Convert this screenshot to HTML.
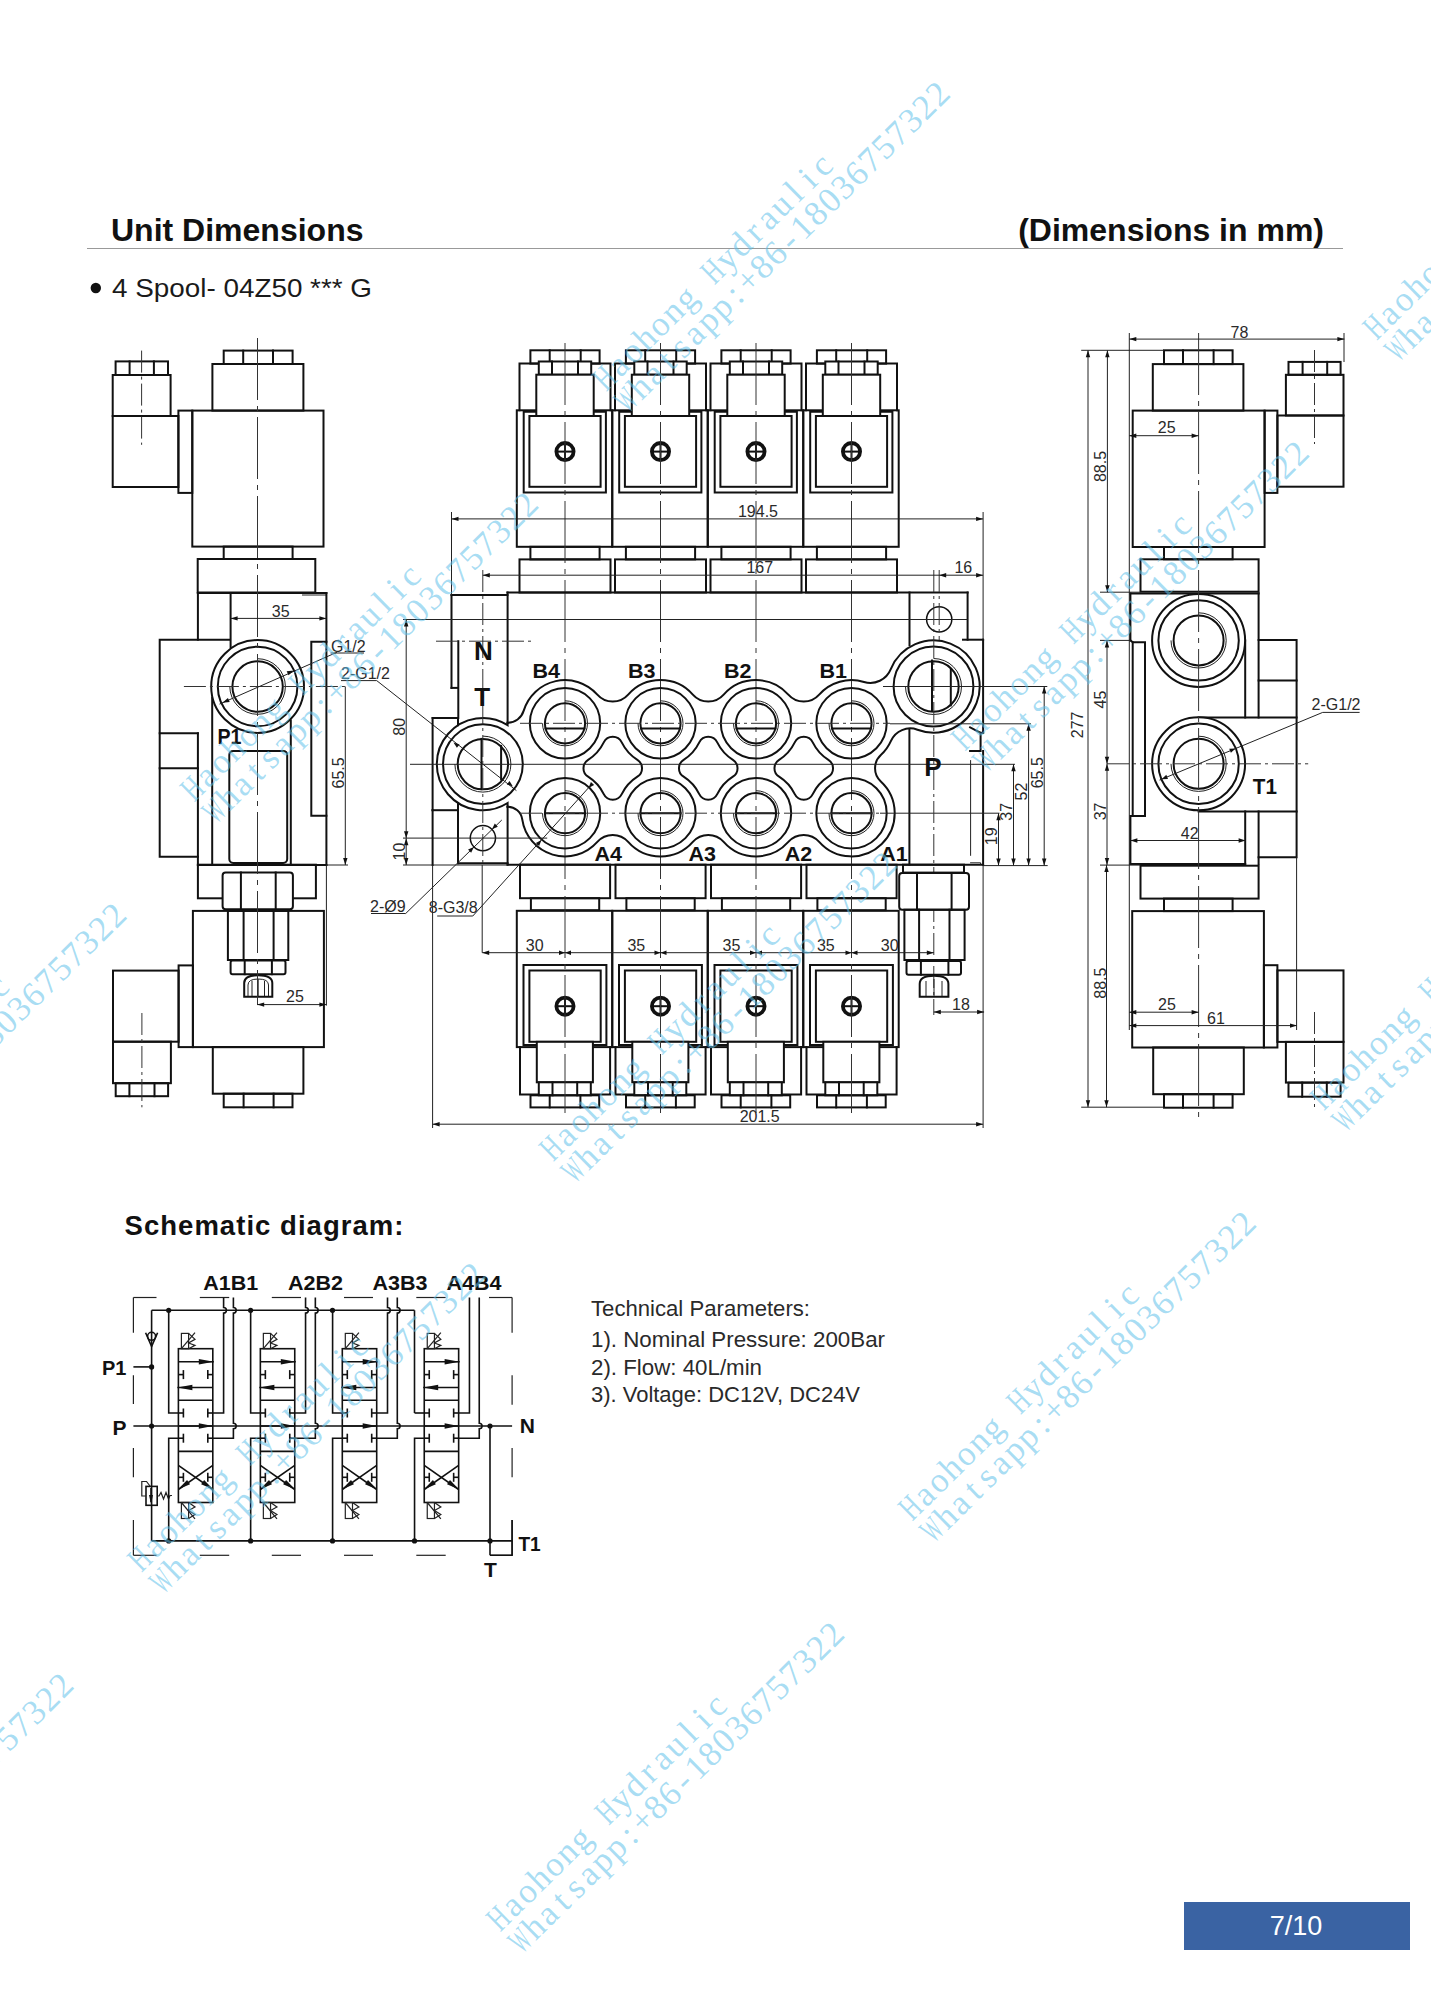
<!DOCTYPE html>
<html><head><meta charset="utf-8"><style>
html,body{margin:0;padding:0;background:#fff;}
svg{display:block;}
.k{stroke:#111;stroke-width:2;fill:none;stroke-linecap:square;}
.kw{stroke:#111;stroke-width:2;fill:#fff;}
.n{stroke:#222;stroke-width:1;fill:none;}
.c{stroke:#333;stroke-width:1;fill:none;stroke-dasharray:22 4 3 4;}
.cl{stroke:#333;stroke-width:1;fill:none;stroke-dasharray:62 6 5 6;}
.ar{fill:#111;stroke:none;}
.hd{stroke:#999;stroke-width:1.2;fill:none;}
.pb{fill:#3a63a3;stroke:none;}
.scr{stroke:#111;stroke-width:3.8;fill:#fff;}
.m{stroke:#111;stroke-width:1.5;fill:none;}
.s{stroke:#111;stroke-width:1.6;fill:none;}
.s1{stroke:#222;stroke-width:1.2;fill:none;}
.sd{stroke:#222;stroke-width:1.5;fill:none;stroke-dasharray:29 43;}
</style></head><body>
<svg width="1431" height="2006" viewBox="0 0 1431 2006">
<text x="111" y="241" font-family="Liberation Sans" font-size="32" font-weight="bold" text-anchor="start" fill="#111" >Unit Dimensions</text>
<text x="1324" y="241" font-family="Liberation Sans" font-size="32" font-weight="bold" text-anchor="end" fill="#111" >(Dimensions in mm)</text>
<line class="hd" x1="87" y1="248.5" x2="1343" y2="248.5"/>
<circle class="ar" cx="95.8" cy="288" r="5.2"/>
<text x="112" y="297" font-family="Liberation Sans" font-size="25.5" font-weight="normal" text-anchor="start" fill="#1a1a1a" textLength="260" lengthAdjust="spacingAndGlyphs">4 Spool- 04Z50 *** G</text>
<rect class="pb" x="1184" y="1902" width="226" height="48"/>
<text x="1296" y="1935" font-family="Liberation Sans" font-size="27" font-weight="normal" text-anchor="middle" fill="#fff" >7/10</text>
<text x="124.5" y="1234.5" font-family="Liberation Sans" font-size="27.5" font-weight="bold" text-anchor="start" fill="#111" textLength="279" lengthAdjust="spacing">Schematic diagram:</text>
<text x="591" y="1315.7" font-family="Liberation Sans" font-size="22.5" font-weight="normal" text-anchor="start" fill="#2a2a2a" textLength="219" lengthAdjust="spacingAndGlyphs">Technical Parameters:</text>
<text x="591" y="1347" font-family="Liberation Sans" font-size="22.5" font-weight="normal" text-anchor="start" fill="#2a2a2a" textLength="294" lengthAdjust="spacingAndGlyphs">1). Nominal Pressure: 200Bar</text>
<text x="591" y="1375" font-family="Liberation Sans" font-size="22.5" font-weight="normal" text-anchor="start" fill="#2a2a2a" textLength="171" lengthAdjust="spacingAndGlyphs">2). Flow: 40L/min</text>
<text x="591" y="1401.8" font-family="Liberation Sans" font-size="22.5" font-weight="normal" text-anchor="start" fill="#2a2a2a" textLength="269" lengthAdjust="spacingAndGlyphs">3). Voltage: DC12V, DC24V</text>
<rect class="k" x="115.6" y="361.4" width="52.4" height="13.6"/>
<line class="k" x1="129.6" y1="361.4" x2="129.6" y2="375"/>
<line class="k" x1="153.9" y1="361.4" x2="153.9" y2="375"/>
<rect class="k" x="112.7" y="375" width="57.9" height="41"/>
<rect class="k" x="112.7" y="416" width="65.7" height="71"/>
<rect class="k" x="178.4" y="410.6" width="13.9" height="82.3"/>
<rect class="k" x="192.3" y="410.6" width="131.2" height="136"/>
<rect class="k" x="212.4" y="364" width="91" height="46.6"/>
<rect class="k" x="223.7" y="350.6" width="68.9" height="13.4"/>
<line class="k" x1="243.2" y1="350.6" x2="243.2" y2="364"/>
<line class="k" x1="273" y1="350.6" x2="273" y2="364"/>
<rect class="k" x="223.7" y="546.6" width="68.9" height="12.4"/>
<rect class="k" x="197.7" y="559" width="117.6" height="33.5"/>
<line class="k" x1="197.9" y1="593" x2="326.4" y2="593"/>
<line class="n" x1="302" y1="595" x2="326.4" y2="595"/>
<line class="k" x1="197.9" y1="593" x2="197.9" y2="639.7"/>
<line class="k" x1="197.9" y1="733.3" x2="197.9" y2="865"/>
<line class="k" x1="230.6" y1="593" x2="230.6" y2="647"/>
<line class="k" x1="326.4" y1="593" x2="326.4" y2="865"/>
<polyline class="k" points="326.4,641.8 311.3,641.8 311.3,815.8 326.4,815.8"/>
<polyline class="k" points="229.7,639.7 159.7,639.7 159.7,856.8 197.9,856.8"/>
<line class="k" x1="159.7" y1="733.3" x2="197.9" y2="733.3"/>
<line class="k" x1="159.7" y1="768.3" x2="197.9" y2="768.3"/>
<line class="k" x1="212.2" y1="697.7" x2="212.2" y2="865"/>
<line class="k" x1="290.8" y1="720.5" x2="290.8" y2="863"/>
<rect class="k" x="229.3" y="750.9" width="57.9" height="112.1" rx="4"/>
<line class="k" x1="197.9" y1="865" x2="326.4" y2="865"/>
<circle class="kw" cx="257.6" cy="686.5" r="46.4"/>
<circle class="k" cx="257.6" cy="686.5" r="39.8"/>
<path class="n" d="M257.6,658.7 A27.8,27.8 0 1 1 229.8,686.5"/>
<circle class="k" cx="257.6" cy="686.5" r="25.2"/>
<rect class="k" x="197.9" y="864.7" width="118" height="33.6"/>
<rect class="kw" x="222.6" y="872.5" width="70.3" height="36.7" rx="3"/>
<line class="k" x1="240.9" y1="872.5" x2="240.9" y2="909.2"/>
<line class="k" x1="275.7" y1="872.5" x2="275.7" y2="909.2"/>
<rect class="k" x="192.9" y="910.9" width="131" height="136.2"/>
<rect class="k" x="227.9" y="910.9" width="60.4" height="49.1"/>
<line class="k" x1="243.6" y1="910.9" x2="243.6" y2="960"/>
<line class="k" x1="273.6" y1="910.9" x2="273.6" y2="960"/>
<rect class="k" x="230.6" y="960.5" width="54.9" height="13.7" rx="2"/>
<line class="k" x1="244.7" y1="960.5" x2="244.7" y2="974.2"/>
<line class="k" x1="271.9" y1="960.5" x2="271.9" y2="974.2"/>
<path class="k" d="M244.2,996.8 L244.2,983 Q244.2,975.2 258.2,975.2 Q272.3,975.2 272.3,983 L272.3,996.8 Z"/>
<path class="n" d="M248,996 L248,985 Q248,979 258.2,979 Q268.5,979 268.5,985 L268.5,996"/>
<line class="n" x1="252" y1="981" x2="252" y2="996"/>
<line class="n" x1="258.2" y1="979" x2="258.2" y2="996"/>
<line class="n" x1="264.5" y1="981" x2="264.5" y2="996"/>
<rect class="k" x="178.6" y="965.4" width="14.3" height="81.7"/>
<rect class="k" x="113" y="970.6" width="65.6" height="71.1"/>
<rect class="k" x="113" y="1041.7" width="57.9" height="41.5"/>
<rect class="k" x="115.7" y="1083.2" width="52.4" height="13"/>
<line class="k" x1="129.4" y1="1083.2" x2="129.4" y2="1096.2"/>
<line class="k" x1="154.5" y1="1083.2" x2="154.5" y2="1096.2"/>
<rect class="k" x="212.8" y="1047.1" width="90.6" height="46.6"/>
<rect class="k" x="223.7" y="1093.7" width="68.8" height="13.6"/>
<line class="k" x1="243.6" y1="1093.7" x2="243.6" y2="1107.3"/>
<line class="k" x1="273.6" y1="1093.7" x2="273.6" y2="1107.3"/>
<line class="cl" x1="257.5" y1="338" x2="257.5" y2="1005"/>
<line class="c" x1="141.6" y1="350.6" x2="141.6" y2="444.8"/>
<line class="c" x1="141.9" y1="1013" x2="141.9" y2="1107.3"/>
<line class="c" x1="183.9" y1="686.5" x2="347.4" y2="686.5"/>
<line class="n" x1="230.6" y1="618.4" x2="326.4" y2="618.4"/>
<polygon class="ar" points="230.6,618.4 237.6,616.2 237.6,620.6"/>
<polygon class="ar" points="326.4,618.4 319.4,620.6 319.4,616.2"/>
<text x="280.7" y="616.5" font-family="Liberation Sans" font-size="16" font-weight="normal" text-anchor="middle" fill="#2a2a2a" >35</text>
<line class="n" x1="219.5" y1="704.1" x2="336.9" y2="652.3"/>
<line class="n" x1="330.6" y1="653" x2="364" y2="653"/>
<polygon class="ar" points="222.4,702.8 227.92,697.97 229.69,701.99"/>
<polygon class="ar" points="294,670.4 288.48,675.23 286.71,671.21"/>
<text x="331" y="651.5" font-family="Liberation Sans" font-size="16" font-weight="normal" text-anchor="start" fill="#2a2a2a" >G1/2</text>
<text x="341" y="678.8" font-family="Liberation Sans" font-size="16" font-weight="normal" text-anchor="start" fill="#2a2a2a" >2-G1/2</text>
<line class="n" x1="341" y1="680.6" x2="376.7" y2="680.6"/>
<line class="n" x1="376.7" y1="680.6" x2="516.4" y2="790.6"/>
<line class="n" x1="345.3" y1="686.5" x2="345.3" y2="865"/>
<polygon class="ar" points="345.3,865 343.1,858 347.5,858"/>
<text x="344.2" y="772.9" font-family="Liberation Sans" font-size="16" font-weight="normal" text-anchor="middle" fill="#2a2a2a" transform="rotate(-90 344.2 772.9)" >65.5</text>
<line class="n" x1="326.4" y1="865" x2="348" y2="865"/>
<line class="n" x1="347.4" y1="686.5" x2="347.4" y2="686.5"/>
<line class="n" x1="257.2" y1="1004.6" x2="326.4" y2="1004.6"/>
<polygon class="ar" points="257.2,1004.6 264.2,1002.4 264.2,1006.8"/>
<polygon class="ar" points="326.4,1004.6 319.4,1006.8 319.4,1002.4"/>
<text x="295" y="1002.3" font-family="Liberation Sans" font-size="16" font-weight="normal" text-anchor="middle" fill="#2a2a2a" >25</text>
<line class="n" x1="326.4" y1="865" x2="326.4" y2="1005.6"/>
<text x="217.4" y="744.4" font-family="Liberation Sans" font-size="21.5" font-weight="bold" text-anchor="start" fill="#111" textLength="24" lengthAdjust="spacingAndGlyphs">P1</text>
<rect class="k" x="530.4" y="350.3" width="69.2" height="13.3"/>
<line class="k" x1="549.7" y1="350.3" x2="549.7" y2="363.6"/>
<line class="k" x1="580.7" y1="350.3" x2="580.7" y2="363.6"/>
<polyline class="k" points="519.5,410.3 519.5,363.6 610.5,363.6 610.5,410.3"/>
<rect class="kw" x="538.8" y="361.5" width="52.4" height="13.2"/>
<line class="k" x1="552" y1="361.5" x2="552" y2="374.7"/>
<line class="k" x1="578" y1="361.5" x2="578" y2="374.7"/>
<rect class="k" x="516.8" y="410.3" width="95.4" height="136.5"/>
<polyline class="k" points="536.3,411.8 523.7,411.8 523.7,492.5 605.9,492.5 605.9,411.8 593.7,411.8"/>
<rect class="kw" x="536.3" y="374.7" width="57.4" height="41.3"/>
<rect class="k" x="529.4" y="416" width="71.2" height="70.8"/>
<rect class="k" x="530.4" y="546.8" width="69.2" height="12.6"/>
<rect class="k" x="519.5" y="559.4" width="91" height="33.1"/>
<circle class="scr" cx="565" cy="451.6" r="8.6"/>
<line class="k" x1="558" y1="451.6" x2="572" y2="451.6"/>
<line class="k" x1="565" y1="444.6" x2="565" y2="458.6"/>
<rect class="k" x="520" y="864.7" width="90.1" height="33.5"/>
<rect class="k" x="530.9" y="898.2" width="68.3" height="12"/>
<rect class="k" x="516.8" y="910.8" width="95.4" height="136.3"/>
<polyline class="k" points="536.8,1045 523.5,1045 523.5,964.9 606.4,964.9 606.4,1045 592.9,1045"/>
<rect class="k" x="529.4" y="970.5" width="71.3" height="71.3"/>
<polyline class="k" points="520,1047.1 520,1094.5 610.1,1094.5 610.1,1047.1"/>
<rect class="kw" x="536.8" y="1041.8" width="56.1" height="40.5"/>
<rect class="kw" x="538.8" y="1082.3" width="52" height="13"/>
<line class="k" x1="552.5" y1="1082.3" x2="552.5" y2="1095.3"/>
<line class="k" x1="577.2" y1="1082.3" x2="577.2" y2="1095.3"/>
<rect class="k" x="530.5" y="1095.3" width="68.7" height="12.1"/>
<line class="k" x1="549.7" y1="1095.3" x2="549.7" y2="1107.4"/>
<line class="k" x1="580.4" y1="1095.3" x2="580.4" y2="1107.4"/>
<circle class="scr" cx="565" cy="1006.2" r="8.6"/>
<line class="k" x1="558" y1="1006.2" x2="572" y2="1006.2"/>
<line class="k" x1="565" y1="999.2" x2="565" y2="1013.2"/>
<line class="cl" x1="565" y1="343" x2="565" y2="1113"/>
<rect class="k" x="625.9" y="350.3" width="69.2" height="13.3"/>
<line class="k" x1="645.2" y1="350.3" x2="645.2" y2="363.6"/>
<line class="k" x1="676.2" y1="350.3" x2="676.2" y2="363.6"/>
<polyline class="k" points="615,410.3 615,363.6 706,363.6 706,410.3"/>
<rect class="kw" x="634.3" y="361.5" width="52.4" height="13.2"/>
<line class="k" x1="647.5" y1="361.5" x2="647.5" y2="374.7"/>
<line class="k" x1="673.5" y1="361.5" x2="673.5" y2="374.7"/>
<rect class="k" x="612.3" y="410.3" width="95.4" height="136.5"/>
<polyline class="k" points="631.8,411.8 619.2,411.8 619.2,492.5 701.4,492.5 701.4,411.8 689.2,411.8"/>
<rect class="kw" x="631.8" y="374.7" width="57.4" height="41.3"/>
<rect class="k" x="624.9" y="416" width="71.2" height="70.8"/>
<rect class="k" x="625.9" y="546.8" width="69.2" height="12.6"/>
<rect class="k" x="615" y="559.4" width="91" height="33.1"/>
<circle class="scr" cx="660.5" cy="451.6" r="8.6"/>
<line class="k" x1="653.5" y1="451.6" x2="667.5" y2="451.6"/>
<line class="k" x1="660.5" y1="444.6" x2="660.5" y2="458.6"/>
<rect class="k" x="615.5" y="864.7" width="90.1" height="33.5"/>
<rect class="k" x="626.4" y="898.2" width="68.3" height="12"/>
<rect class="k" x="612.3" y="910.8" width="95.4" height="136.3"/>
<polyline class="k" points="632.3,1045 619,1045 619,964.9 701.9,964.9 701.9,1045 688.4,1045"/>
<rect class="k" x="624.9" y="970.5" width="71.3" height="71.3"/>
<polyline class="k" points="615.5,1047.1 615.5,1094.5 705.6,1094.5 705.6,1047.1"/>
<rect class="kw" x="632.3" y="1041.8" width="56.1" height="40.5"/>
<rect class="kw" x="634.3" y="1082.3" width="52" height="13"/>
<line class="k" x1="648" y1="1082.3" x2="648" y2="1095.3"/>
<line class="k" x1="672.7" y1="1082.3" x2="672.7" y2="1095.3"/>
<rect class="k" x="626" y="1095.3" width="68.7" height="12.1"/>
<line class="k" x1="645.2" y1="1095.3" x2="645.2" y2="1107.4"/>
<line class="k" x1="675.9" y1="1095.3" x2="675.9" y2="1107.4"/>
<circle class="scr" cx="660.5" cy="1006.2" r="8.6"/>
<line class="k" x1="653.5" y1="1006.2" x2="667.5" y2="1006.2"/>
<line class="k" x1="660.5" y1="999.2" x2="660.5" y2="1013.2"/>
<line class="cl" x1="660.5" y1="343" x2="660.5" y2="1113"/>
<rect class="k" x="721.4" y="350.3" width="69.2" height="13.3"/>
<line class="k" x1="740.7" y1="350.3" x2="740.7" y2="363.6"/>
<line class="k" x1="771.7" y1="350.3" x2="771.7" y2="363.6"/>
<polyline class="k" points="710.5,410.3 710.5,363.6 801.5,363.6 801.5,410.3"/>
<rect class="kw" x="729.8" y="361.5" width="52.4" height="13.2"/>
<line class="k" x1="743" y1="361.5" x2="743" y2="374.7"/>
<line class="k" x1="769" y1="361.5" x2="769" y2="374.7"/>
<rect class="k" x="707.8" y="410.3" width="95.4" height="136.5"/>
<polyline class="k" points="727.3,411.8 714.7,411.8 714.7,492.5 796.9,492.5 796.9,411.8 784.7,411.8"/>
<rect class="kw" x="727.3" y="374.7" width="57.4" height="41.3"/>
<rect class="k" x="720.4" y="416" width="71.2" height="70.8"/>
<rect class="k" x="721.4" y="546.8" width="69.2" height="12.6"/>
<rect class="k" x="710.5" y="559.4" width="91" height="33.1"/>
<circle class="scr" cx="756" cy="451.6" r="8.6"/>
<line class="k" x1="749" y1="451.6" x2="763" y2="451.6"/>
<line class="k" x1="756" y1="444.6" x2="756" y2="458.6"/>
<rect class="k" x="711" y="864.7" width="90.1" height="33.5"/>
<rect class="k" x="721.9" y="898.2" width="68.3" height="12"/>
<rect class="k" x="707.8" y="910.8" width="95.4" height="136.3"/>
<polyline class="k" points="727.8,1045 714.5,1045 714.5,964.9 797.4,964.9 797.4,1045 783.9,1045"/>
<rect class="k" x="720.4" y="970.5" width="71.3" height="71.3"/>
<polyline class="k" points="711,1047.1 711,1094.5 801.1,1094.5 801.1,1047.1"/>
<rect class="kw" x="727.8" y="1041.8" width="56.1" height="40.5"/>
<rect class="kw" x="729.8" y="1082.3" width="52" height="13"/>
<line class="k" x1="743.5" y1="1082.3" x2="743.5" y2="1095.3"/>
<line class="k" x1="768.2" y1="1082.3" x2="768.2" y2="1095.3"/>
<rect class="k" x="721.5" y="1095.3" width="68.7" height="12.1"/>
<line class="k" x1="740.7" y1="1095.3" x2="740.7" y2="1107.4"/>
<line class="k" x1="771.4" y1="1095.3" x2="771.4" y2="1107.4"/>
<circle class="scr" cx="756" cy="1006.2" r="8.6"/>
<line class="k" x1="749" y1="1006.2" x2="763" y2="1006.2"/>
<line class="k" x1="756" y1="999.2" x2="756" y2="1013.2"/>
<line class="cl" x1="756" y1="343" x2="756" y2="1113"/>
<rect class="k" x="816.9" y="350.3" width="69.2" height="13.3"/>
<line class="k" x1="836.2" y1="350.3" x2="836.2" y2="363.6"/>
<line class="k" x1="867.2" y1="350.3" x2="867.2" y2="363.6"/>
<polyline class="k" points="806,410.3 806,363.6 897,363.6 897,410.3"/>
<rect class="kw" x="825.3" y="361.5" width="52.4" height="13.2"/>
<line class="k" x1="838.5" y1="361.5" x2="838.5" y2="374.7"/>
<line class="k" x1="864.5" y1="361.5" x2="864.5" y2="374.7"/>
<rect class="k" x="803.3" y="410.3" width="95.4" height="136.5"/>
<polyline class="k" points="822.8,411.8 810.2,411.8 810.2,492.5 892.4,492.5 892.4,411.8 880.2,411.8"/>
<rect class="kw" x="822.8" y="374.7" width="57.4" height="41.3"/>
<rect class="k" x="815.9" y="416" width="71.2" height="70.8"/>
<rect class="k" x="816.9" y="546.8" width="69.2" height="12.6"/>
<rect class="k" x="806" y="559.4" width="91" height="33.1"/>
<circle class="scr" cx="851.5" cy="451.6" r="8.6"/>
<line class="k" x1="844.5" y1="451.6" x2="858.5" y2="451.6"/>
<line class="k" x1="851.5" y1="444.6" x2="851.5" y2="458.6"/>
<rect class="k" x="806.5" y="864.7" width="90.1" height="33.5"/>
<rect class="k" x="817.4" y="898.2" width="68.3" height="12"/>
<rect class="k" x="803.3" y="910.8" width="95.4" height="136.3"/>
<polyline class="k" points="823.3,1045 810,1045 810,964.9 892.9,964.9 892.9,1045 879.4,1045"/>
<rect class="k" x="815.9" y="970.5" width="71.3" height="71.3"/>
<polyline class="k" points="806.5,1047.1 806.5,1094.5 896.6,1094.5 896.6,1047.1"/>
<rect class="kw" x="823.3" y="1041.8" width="56.1" height="40.5"/>
<rect class="kw" x="825.3" y="1082.3" width="52" height="13"/>
<line class="k" x1="839" y1="1082.3" x2="839" y2="1095.3"/>
<line class="k" x1="863.7" y1="1082.3" x2="863.7" y2="1095.3"/>
<rect class="k" x="817" y="1095.3" width="68.7" height="12.1"/>
<line class="k" x1="836.2" y1="1095.3" x2="836.2" y2="1107.4"/>
<line class="k" x1="866.9" y1="1095.3" x2="866.9" y2="1107.4"/>
<circle class="scr" cx="851.5" cy="1006.2" r="8.6"/>
<line class="k" x1="844.5" y1="1006.2" x2="858.5" y2="1006.2"/>
<line class="k" x1="851.5" y1="999.2" x2="851.5" y2="1013.2"/>
<line class="cl" x1="851.5" y1="343" x2="851.5" y2="1113"/>
<line class="k" x1="507.4" y1="592.5" x2="967.6" y2="592.5"/>
<line class="k" x1="507.6" y1="592.5" x2="507.6" y2="722.8"/>
<line class="k" x1="507.6" y1="806.7" x2="507.6" y2="864.7"/>
<line class="k" x1="507.6" y1="864.7" x2="983.1" y2="864.7"/>
<line class="k" x1="909.5" y1="592.5" x2="909.5" y2="645"/>
<line class="k" x1="909.4" y1="729.8" x2="909.4" y2="864.7"/>
<line class="k" x1="967.6" y1="592.5" x2="967.6" y2="639.7"/>
<line class="k" x1="963" y1="639.7" x2="983.1" y2="639.7"/>
<line class="k" x1="983.1" y1="639.7" x2="983.1" y2="732.8"/>
<polyline class="k" points="970.1,727.3 980.6,732.8 980.6,751 970.1,751"/>
<line class="k" x1="983.1" y1="751" x2="983.1" y2="864.7"/>
<line class="k" x1="980.6" y1="732.8" x2="983.1" y2="732.8"/>
<line class="n" x1="970.6" y1="760.1" x2="970.6" y2="855.8"/>
<polyline class="n" points="970.1,862.8 980.6,862.8 980.6,864.7"/>
<line class="k" x1="451.5" y1="595.1" x2="451.5" y2="687.9"/>
<line class="k" x1="451.5" y1="595.1" x2="507.4" y2="595.1"/>
<line class="k" x1="451.5" y1="687.9" x2="457.6" y2="687.9"/>
<line class="k" x1="458.3" y1="641.2" x2="458.3" y2="718"/>
<line class="k" x1="432.6" y1="718" x2="458" y2="718"/>
<line class="k" x1="432.6" y1="718" x2="432.6" y2="810.2"/>
<line class="k" x1="432.6" y1="810.2" x2="458" y2="810.2"/>
<line class="k" x1="458" y1="718" x2="458" y2="725.3"/>
<line class="k" x1="458" y1="802.9" x2="458" y2="863.3"/>
<line class="k" x1="458" y1="863.3" x2="507.6" y2="863.3"/>
<path class="k" d="M507.6,722.8 L507.60,725.18 A46.10,46.10 0 1 0 507.60,803.02 L507.6,806.7"/>
<path class="k" d="M507.60,722.80 A16.70,16.70 0 0 0 523.62,710.90 A43.20,43.20 0 0 1 597.33,694.65 A20.60,20.60 0 0 0 628.17,694.65 A43.20,43.20 0 0 1 692.83,694.65 A20.60,20.60 0 0 0 723.67,694.65 A43.20,43.20 0 0 1 788.33,694.65 A20.60,20.60 0 0 0 819.17,694.65 A43.20,43.20 0 0 1 864.02,681.95 A22.00,22.00 0 0 0 890.78,669.17 A46.10,46.10 0 1 1 917.46,729.72 A21.00,21.00 0 0 0 890.97,740.87 A43.20,43.20 0 0 1 880.82,755.03 A18.00,18.00 0 0 0 880.82,781.47 A43.20,43.20 0 1 1 819.17,841.85 A20.60,20.60 0 0 0 788.33,841.85 A43.20,43.20 0 0 1 723.67,841.85 A20.60,20.60 0 0 0 692.83,841.85 A43.20,43.20 0 0 1 628.17,841.85 A20.60,20.60 0 0 0 597.33,841.85 A43.20,43.20 0 0 1 522.24,819.38 A14.80,14.80 0 0 0 507.60,806.70"/>
<path class="k" d="M603.77,742.35 A10.00,10.00 0 0 1 621.73,742.35 A43.20,43.20 0 0 0 637.39,759.80 A10.00,10.00 0 0 1 637.39,776.70 A43.20,43.20 0 0 0 621.73,794.15 A10.00,10.00 0 0 1 603.77,794.15 A43.20,43.20 0 0 0 588.11,776.70 A10.00,10.00 0 0 1 588.11,759.80 A43.20,43.20 0 0 0 603.77,742.35 Z"/>
<path class="k" d="M699.27,742.35 A10.00,10.00 0 0 1 717.23,742.35 A43.20,43.20 0 0 0 732.89,759.80 A10.00,10.00 0 0 1 732.89,776.70 A43.20,43.20 0 0 0 717.23,794.15 A10.00,10.00 0 0 1 699.27,794.15 A43.20,43.20 0 0 0 683.61,776.70 A10.00,10.00 0 0 1 683.61,759.80 A43.20,43.20 0 0 0 699.27,742.35 Z"/>
<path class="k" d="M794.77,742.35 A10.00,10.00 0 0 1 812.73,742.35 A43.20,43.20 0 0 0 828.39,759.80 A10.00,10.00 0 0 1 828.39,776.70 A43.20,43.20 0 0 0 812.73,794.15 A10.00,10.00 0 0 1 794.77,794.15 A43.20,43.20 0 0 0 779.11,776.70 A10.00,10.00 0 0 1 779.11,759.80 A43.20,43.20 0 0 0 794.77,742.35 Z"/>
<circle class="k" cx="565" cy="723.3" r="35.2"/>
<path class="n" d="M565,700.8 A22.5,22.5 0 1 1 542.5,723.3"/>
<circle class="k" cx="565" cy="723.3" r="20.1"/>
<circle class="k" cx="660.5" cy="723.3" r="35.2"/>
<path class="n" d="M660.5,700.8 A22.5,22.5 0 1 1 638,723.3"/>
<circle class="k" cx="660.5" cy="723.3" r="20.1"/>
<circle class="k" cx="756" cy="723.3" r="35.2"/>
<path class="n" d="M756,700.8 A22.5,22.5 0 1 1 733.5,723.3"/>
<circle class="k" cx="756" cy="723.3" r="20.1"/>
<circle class="k" cx="851.5" cy="723.3" r="35.2"/>
<path class="n" d="M851.5,700.8 A22.5,22.5 0 1 1 829,723.3"/>
<circle class="k" cx="851.5" cy="723.3" r="20.1"/>
<circle class="k" cx="565" cy="813.2" r="35.2"/>
<path class="n" d="M565,790.7 A22.5,22.5 0 1 1 542.5,813.2"/>
<circle class="k" cx="565" cy="813.2" r="20.1"/>
<circle class="k" cx="660.5" cy="813.2" r="35.2"/>
<path class="n" d="M660.5,790.7 A22.5,22.5 0 1 1 638,813.2"/>
<circle class="k" cx="660.5" cy="813.2" r="20.1"/>
<circle class="k" cx="756" cy="813.2" r="35.2"/>
<path class="n" d="M756,790.7 A22.5,22.5 0 1 1 733.5,813.2"/>
<circle class="k" cx="756" cy="813.2" r="20.1"/>
<circle class="k" cx="851.5" cy="813.2" r="35.2"/>
<path class="n" d="M851.5,790.7 A22.5,22.5 0 1 1 829,813.2"/>
<circle class="k" cx="851.5" cy="813.2" r="20.1"/>
<line class="k" x1="545.5" y1="728.6" x2="584.5" y2="728.6"/>
<line class="k" x1="641" y1="728.6" x2="680" y2="728.6"/>
<line class="k" x1="736.5" y1="728.6" x2="775.5" y2="728.6"/>
<line class="k" x1="832" y1="728.6" x2="871" y2="728.6"/>
<line class="k" x1="545" y1="813.2" x2="585" y2="813.2"/>
<line class="k" x1="640.5" y1="813.2" x2="680.5" y2="813.2"/>
<line class="k" x1="736" y1="813.2" x2="776" y2="813.2"/>
<line class="k" x1="831.5" y1="813.2" x2="871.5" y2="813.2"/>
<circle class="k" cx="482.9" cy="764.1" r="39.9"/>
<path class="n" d="M482.9,736.1 A28,28 0 1 1 454.9,764.1"/>
<circle class="k" cx="482.9" cy="764.1" r="25.2"/>
<circle class="k" cx="933.5" cy="686.5" r="39.9"/>
<path class="n" d="M933.5,658.5 A28,28 0 1 1 905.5,686.5"/>
<circle class="k" cx="933.5" cy="686.5" r="25.2"/>
<line class="k" x1="481.5" y1="738.9" x2="481.5" y2="789.2"/>
<polygon class="ar" points="453.5,742.4 459.58,744.38 456.86,747.84"/>
<polygon class="ar" points="512.9,786.4 506.82,784.42 509.54,780.96"/>
<line class="k" x1="501.1" y1="745.9" x2="501.1" y2="779.4"/>
<line class="k" x1="932" y1="660.6" x2="932" y2="711"/>
<line class="k" x1="950.8" y1="669" x2="950.8" y2="705.4"/>
<circle class="m" cx="482.9" cy="838.1" r="12.6"/>
<circle class="m" cx="939.2" cy="619.3" r="12.6"/>
<line class="c" x1="436" y1="641.2" x2="532.6" y2="641.2"/>
<line class="c" x1="520" y1="723.3" x2="890" y2="723.3"/>
<line class="c" x1="520" y1="813.2" x2="880" y2="813.2"/>
<line class="n" x1="880" y1="813.2" x2="999.5" y2="813.2"/>
<line class="n" x1="410" y1="764.3" x2="1015" y2="764.3"/>
<line class="n" x1="403" y1="619.5" x2="967.6" y2="619.5"/>
<line class="n" x1="883" y1="686.5" x2="1047.3" y2="686.5"/>
<line class="c" x1="482.8" y1="570" x2="482.8" y2="865"/>
<line class="n" x1="482.2" y1="865" x2="482.2" y2="952.7"/>
<line class="c" x1="933.8" y1="570" x2="933.8" y2="1015"/>
<line class="c" x1="939.2" y1="570" x2="939.2" y2="640"/>
<text x="532.6" y="677.5" font-family="Liberation Sans" font-size="20.5" font-weight="bold" text-anchor="start" fill="#111" textLength="27.5" lengthAdjust="spacingAndGlyphs">B4</text>
<text x="628" y="677.5" font-family="Liberation Sans" font-size="20.5" font-weight="bold" text-anchor="start" fill="#111" textLength="27.5" lengthAdjust="spacingAndGlyphs">B3</text>
<text x="724" y="677.5" font-family="Liberation Sans" font-size="20.5" font-weight="bold" text-anchor="start" fill="#111" textLength="27.5" lengthAdjust="spacingAndGlyphs">B2</text>
<text x="819.4" y="677.5" font-family="Liberation Sans" font-size="20.5" font-weight="bold" text-anchor="start" fill="#111" textLength="27.5" lengthAdjust="spacingAndGlyphs">B1</text>
<text x="594.4" y="860.5" font-family="Liberation Sans" font-size="20.5" font-weight="bold" text-anchor="start" fill="#111" textLength="27.5" lengthAdjust="spacingAndGlyphs">A4</text>
<text x="688.4" y="860.5" font-family="Liberation Sans" font-size="20.5" font-weight="bold" text-anchor="start" fill="#111" textLength="27.5" lengthAdjust="spacingAndGlyphs">A3</text>
<text x="784.8" y="860.5" font-family="Liberation Sans" font-size="20.5" font-weight="bold" text-anchor="start" fill="#111" textLength="27.5" lengthAdjust="spacingAndGlyphs">A2</text>
<text x="880.2" y="860.5" font-family="Liberation Sans" font-size="20.5" font-weight="bold" text-anchor="start" fill="#111" textLength="27.5" lengthAdjust="spacingAndGlyphs">A1</text>
<text x="483.5" y="659.7" font-family="Liberation Sans" font-size="26" font-weight="bold" text-anchor="middle" fill="#111" >N</text>
<text x="482.2" y="705.8" font-family="Liberation Sans" font-size="26" font-weight="bold" text-anchor="middle" fill="#111" >T</text>
<text x="932.8" y="776.1" font-family="Liberation Sans" font-size="26" font-weight="bold" text-anchor="middle" fill="#111" >P</text>
<rect class="k" x="903" y="864.7" width="61" height="7.9"/>
<rect class="kw" x="899.2" y="873" width="69.8" height="36.7" rx="3"/>
<line class="k" x1="917" y1="873" x2="917" y2="909.7"/>
<line class="k" x1="951.6" y1="873" x2="951.6" y2="909.7"/>
<rect class="k" x="904.4" y="909.7" width="60.2" height="50.3"/>
<line class="k" x1="919.1" y1="909.7" x2="919.1" y2="960"/>
<line class="k" x1="949.5" y1="909.7" x2="949.5" y2="960"/>
<rect class="k" x="906.5" y="961" width="54.5" height="13.7" rx="2"/>
<line class="k" x1="920.9" y1="961" x2="920.9" y2="974.7"/>
<line class="k" x1="948.4" y1="961" x2="948.4" y2="974.7"/>
<path class="k" d="M919.7,996.8 L919.7,984 Q919.7,975.8 934,975.8 Q948.4,975.8 948.4,984 L948.4,996.8 Z"/>
<line class="n" x1="926" y1="981" x2="926" y2="996"/>
<line class="n" x1="934" y1="979" x2="934" y2="996"/>
<line class="n" x1="942" y1="981" x2="942" y2="996"/>
<line class="n" x1="451.5" y1="518.9" x2="983.1" y2="518.9"/>
<polygon class="ar" points="451.5,518.9 458.5,516.7 458.5,521.1"/>
<polygon class="ar" points="983.1,518.9 976.1,521.1 976.1,516.7"/>
<text x="758" y="516.6" font-family="Liberation Sans" font-size="16" font-weight="normal" text-anchor="middle" fill="#2a2a2a" >194.5</text>
<line class="n" x1="451.5" y1="512" x2="451.5" y2="595.1"/>
<line class="n" x1="983.1" y1="512" x2="983.1" y2="639.7"/>
<line class="n" x1="482.8" y1="575.2" x2="983.1" y2="575.2"/>
<polygon class="ar" points="482.8,575.2 489.8,573 489.8,577.4"/>
<polygon class="ar" points="983.1,575.2 976.1,577.4 976.1,573"/>
<text x="759.8" y="573.2" font-family="Liberation Sans" font-size="16" font-weight="normal" text-anchor="middle" fill="#2a2a2a" >167</text>
<polygon class="ar" points="939.2,575.2 946.2,573 946.2,577.4"/>
<text x="963.3" y="573.3" font-family="Liberation Sans" font-size="16" font-weight="normal" text-anchor="middle" fill="#2a2a2a" >16</text>
<line class="n" x1="406.2" y1="619.5" x2="406.2" y2="838.3"/>
<polygon class="ar" points="406.2,619.5 408.4,626.5 404,626.5"/>
<polygon class="ar" points="406.2,838.3 404,831.3 408.4,831.3"/>
<line class="n" x1="406.2" y1="838.3" x2="406.2" y2="865"/>
<text x="405.2" y="726.8" font-family="Liberation Sans" font-size="16" font-weight="normal" text-anchor="middle" fill="#2a2a2a" transform="rotate(-90 405.2 726.8)" >80</text>
<line class="n" x1="403" y1="838.1" x2="547.2" y2="838.1"/>
<line class="n" x1="403" y1="865" x2="507.6" y2="865"/>
<polygon class="ar" points="406.2,838.3 408.4,845.3 404,845.3"/>
<polygon class="ar" points="406.2,865 404,858 408.4,858"/>
<text x="405.2" y="851.5" font-family="Liberation Sans" font-size="16" font-weight="normal" text-anchor="middle" fill="#2a2a2a" transform="rotate(-90 405.2 851.5)" >10</text>
<line class="n" x1="1044.2" y1="686.5" x2="1044.2" y2="865.6"/>
<polygon class="ar" points="1044.2,686.5 1046.4,693.5 1042,693.5"/>
<polygon class="ar" points="1044.2,865.6 1042,858.6 1046.4,858.6"/>
<text x="1043" y="772.7" font-family="Liberation Sans" font-size="16" font-weight="normal" text-anchor="middle" fill="#2a2a2a" transform="rotate(-90 1043 772.7)" >65.5</text>
<line class="n" x1="1028.6" y1="723.8" x2="1028.6" y2="865.6"/>
<polygon class="ar" points="1028.6,723.8 1030.8,730.8 1026.4,730.8"/>
<polygon class="ar" points="1028.6,865.6 1026.4,858.6 1030.8,858.6"/>
<text x="1027.4" y="791.5" font-family="Liberation Sans" font-size="16" font-weight="normal" text-anchor="middle" fill="#2a2a2a" transform="rotate(-90 1027.4 791.5)" >52</text>
<line class="n" x1="1013.5" y1="764.3" x2="1013.5" y2="865.6"/>
<polygon class="ar" points="1013.5,764.3 1015.7,771.3 1011.3,771.3"/>
<polygon class="ar" points="1013.5,865.6 1011.3,858.6 1015.7,858.6"/>
<text x="1012.3" y="811.8" font-family="Liberation Sans" font-size="16" font-weight="normal" text-anchor="middle" fill="#2a2a2a" transform="rotate(-90 1012.3 811.8)" >37</text>
<line class="n" x1="998.5" y1="813.2" x2="998.5" y2="865.6"/>
<polygon class="ar" points="998.5,813.2 1000.7,820.2 996.3,820.2"/>
<polygon class="ar" points="998.5,865.6 996.3,858.6 1000.7,858.6"/>
<text x="997.3" y="836.3" font-family="Liberation Sans" font-size="16" font-weight="normal" text-anchor="middle" fill="#2a2a2a" transform="rotate(-90 997.3 836.3)" >19</text>
<line class="n" x1="890" y1="723.8" x2="1031" y2="723.8"/>
<line class="n" x1="983" y1="865.6" x2="1047.7" y2="865.6"/>
<line class="n" x1="482.2" y1="952.7" x2="933.8" y2="952.7"/>
<polygon class="ar" points="482.2,952.7 489.2,950.5 489.2,954.9"/>
<polygon class="ar" points="933.8,952.7 926.8,954.9 926.8,950.5"/>
<polygon class="ar" points="565,952.7 559,954.9 559,950.5"/>
<polygon class="ar" points="565,952.7 571,950.5 571,954.9"/>
<polygon class="ar" points="660.5,952.7 654.5,954.9 654.5,950.5"/>
<polygon class="ar" points="660.5,952.7 666.5,950.5 666.5,954.9"/>
<polygon class="ar" points="756,952.7 750,954.9 750,950.5"/>
<polygon class="ar" points="756,952.7 762,950.5 762,954.9"/>
<polygon class="ar" points="851.5,952.7 845.5,954.9 845.5,950.5"/>
<polygon class="ar" points="851.5,952.7 857.5,950.5 857.5,954.9"/>
<text x="534.7" y="950.6" font-family="Liberation Sans" font-size="16" font-weight="normal" text-anchor="middle" fill="#2a2a2a" >30</text>
<text x="636.3" y="950.6" font-family="Liberation Sans" font-size="16" font-weight="normal" text-anchor="middle" fill="#2a2a2a" >35</text>
<text x="731.4" y="950.6" font-family="Liberation Sans" font-size="16" font-weight="normal" text-anchor="middle" fill="#2a2a2a" >35</text>
<text x="825.8" y="950.6" font-family="Liberation Sans" font-size="16" font-weight="normal" text-anchor="middle" fill="#2a2a2a" >35</text>
<text x="889.7" y="950.6" font-family="Liberation Sans" font-size="16" font-weight="normal" text-anchor="middle" fill="#2a2a2a" >30</text>
<line class="n" x1="432.6" y1="1124.2" x2="983.1" y2="1124.2"/>
<polygon class="ar" points="432.6,1124.2 439.6,1122 439.6,1126.4"/>
<polygon class="ar" points="983.1,1124.2 976.1,1126.4 976.1,1122"/>
<text x="759.7" y="1121.5" font-family="Liberation Sans" font-size="16" font-weight="normal" text-anchor="middle" fill="#2a2a2a" >201.5</text>
<line class="k" x1="432.6" y1="810.2" x2="432.6" y2="865"/>
<line class="n" x1="432.6" y1="865" x2="432.6" y2="1128"/>
<line class="n" x1="983.1" y1="864.7" x2="983.1" y2="1128"/>
<line class="n" x1="933.8" y1="1012" x2="984.1" y2="1012"/>
<polygon class="ar" points="933.8,1012 940.8,1009.8 940.8,1014.2"/>
<polygon class="ar" points="984.1,1012 977.1,1014.2 977.1,1009.8"/>
<text x="961" y="1010.4" font-family="Liberation Sans" font-size="16" font-weight="normal" text-anchor="middle" fill="#2a2a2a" >18</text>
<text x="405.7" y="911.5" font-family="Liberation Sans" font-size="16" font-weight="normal" text-anchor="end" fill="#2a2a2a" >2-Ø9</text>
<line class="n" x1="371" y1="913.5" x2="405.7" y2="913.5"/>
<line class="n" x1="405.7" y1="913.5" x2="501.8" y2="820"/>
<polygon class="ar" points="473.9,847 471.13,852.76 468.06,849.61"/>
<polygon class="ar" points="492,829.3 494.77,823.54 497.84,826.69"/>
<text x="428.8" y="912.5" font-family="Liberation Sans" font-size="16" font-weight="normal" text-anchor="start" fill="#2a2a2a" >8-G3/8</text>
<line class="n" x1="437.2" y1="916" x2="472.8" y2="916"/>
<line class="n" x1="472.8" y1="916" x2="589.8" y2="786.4"/>
<polygon class="ar" points="541.5,840 539.1,845.92 535.84,842.97"/>
<polygon class="ar" points="588.5,788 590.9,782.08 594.16,785.03"/>
<rect class="k" x="1164" y="350.3" width="68.6" height="13.8"/>
<line class="k" x1="1183" y1="350.3" x2="1183" y2="364.1"/>
<line class="k" x1="1213.6" y1="350.3" x2="1213.6" y2="364.1"/>
<rect class="k" x="1152.8" y="364.1" width="90.6" height="46.5"/>
<rect class="k" x="1132.7" y="410.6" width="131.9" height="136.4"/>
<rect class="k" x="1264.6" y="410.6" width="12.8" height="82.3"/>
<rect class="k" x="1277.4" y="415.5" width="66.1" height="71.2"/>
<rect class="k" x="1285.9" y="374.8" width="57.6" height="40.7"/>
<rect class="k" x="1288.5" y="361.9" width="52.1" height="12.9"/>
<line class="k" x1="1302.6" y1="361.9" x2="1302.6" y2="374.8"/>
<line class="k" x1="1327.2" y1="361.9" x2="1327.2" y2="374.8"/>
<line class="c" x1="1314.5" y1="350" x2="1314.5" y2="444"/>
<rect class="k" x="1164" y="547" width="68.6" height="12.3"/>
<rect class="k" x="1140.5" y="559.3" width="118.1" height="32.4"/>
<line class="k" x1="1130.4" y1="593.4" x2="1258.6" y2="593.4"/>
<line class="k" x1="1130.4" y1="593.4" x2="1130.4" y2="640.4"/>
<line class="k" x1="1258.6" y1="593.4" x2="1258.6" y2="717.5"/>
<polyline class="k" points="1130.4,640.4 1132.7,642.2 1145,642.2 1145,815.9 1130.4,815.9 1130.4,864"/>
<line class="k" x1="1132.7" y1="642.2" x2="1132.7" y2="815.9"/>
<line class="k" x1="1130.4" y1="864" x2="1245.2" y2="864"/>
<line class="k" x1="1245.2" y1="640.4" x2="1245.2" y2="717.5"/>
<line class="k" x1="1245.2" y1="811.4" x2="1245.2" y2="864"/>
<line class="k" x1="1258.6" y1="811.4" x2="1258.6" y2="864"/>
<polyline class="k" points="1258.6,640 1296.6,640 1296.6,857.3 1258.6,857.3"/>
<line class="k" x1="1258.6" y1="680.6" x2="1296.6" y2="680.6"/>
<line class="k" x1="1198.6" y1="717.5" x2="1296.6" y2="717.5"/>
<line class="k" x1="1198.6" y1="811.4" x2="1296.6" y2="811.4"/>
<circle class="kw" cx="1198.6" cy="640.4" r="46.5"/>
<circle class="k" cx="1198.6" cy="640.4" r="40.2"/>
<path class="n" d="M1198.6,612.8 A27.6,27.6 0 1 1 1171,640.4"/>
<circle class="k" cx="1198.6" cy="640.4" r="25"/>
<circle class="kw" cx="1198.6" cy="763.8" r="46.5"/>
<circle class="k" cx="1198.6" cy="763.8" r="40.2"/>
<path class="n" d="M1198.6,736.2 A27.6,27.6 0 1 1 1171,763.8"/>
<circle class="k" cx="1198.6" cy="763.8" r="25"/>
<text x="1252.8" y="793.5" font-family="Liberation Sans" font-size="22" font-weight="bold" text-anchor="start" fill="#111" textLength="24.1" lengthAdjust="spacingAndGlyphs">T1</text>
<rect class="k" x="1140.5" y="865.7" width="118.1" height="32.9"/>
<rect class="k" x="1164" y="898.6" width="68.6" height="12.5"/>
<rect class="k" x="1132.2" y="911.1" width="131.7" height="136.4"/>
<rect class="k" x="1263.9" y="965.2" width="13.5" height="82.3"/>
<rect class="k" x="1277.4" y="970.4" width="66.1" height="71.5"/>
<rect class="k" x="1285.9" y="1041.9" width="57.6" height="40.7"/>
<rect class="k" x="1288.5" y="1082.6" width="52.1" height="14.1"/>
<line class="k" x1="1302.2" y1="1082.6" x2="1302.2" y2="1096.7"/>
<line class="k" x1="1326.8" y1="1082.6" x2="1326.8" y2="1096.7"/>
<rect class="k" x="1153.2" y="1047.5" width="90.6" height="46.7"/>
<rect class="k" x="1164" y="1094.2" width="68.6" height="13.5"/>
<line class="k" x1="1183" y1="1094.2" x2="1183" y2="1107.7"/>
<line class="k" x1="1213.6" y1="1094.2" x2="1213.6" y2="1107.7"/>
<line class="c" x1="1314.5" y1="1012" x2="1314.5" y2="1107"/>
<line class="cl" x1="1198.6" y1="333" x2="1198.6" y2="1119.5"/>
<line class="c" x1="1107" y1="763.8" x2="1308.2" y2="763.8"/>
<line class="n" x1="1129.3" y1="339.1" x2="1344.4" y2="339.1"/>
<polygon class="ar" points="1129.3,339.1 1136.3,336.9 1136.3,341.3"/>
<polygon class="ar" points="1344.4,339.1 1337.4,341.3 1337.4,336.9"/>
<text x="1239.5" y="337.8" font-family="Liberation Sans" font-size="16" font-weight="normal" text-anchor="middle" fill="#2a2a2a" >78</text>
<line class="n" x1="1129.3" y1="333" x2="1129.3" y2="1030"/>
<line class="n" x1="1344" y1="333" x2="1344" y2="362"/>
<line class="n" x1="1129.3" y1="435.7" x2="1198.6" y2="435.7"/>
<polygon class="ar" points="1129.3,435.7 1136.3,433.5 1136.3,437.9"/>
<polygon class="ar" points="1198.6,435.7 1191.6,437.9 1191.6,433.5"/>
<text x="1166.7" y="433.2" font-family="Liberation Sans" font-size="16" font-weight="normal" text-anchor="middle" fill="#2a2a2a" >25</text>
<line class="n" x1="1107.4" y1="350.3" x2="1107.4" y2="592.2"/>
<polygon class="ar" points="1107.4,350.3 1109.6,357.3 1105.2,357.3"/>
<polygon class="ar" points="1107.4,592.2 1105.2,585.2 1109.6,585.2"/>
<text x="1105.9" y="466.5" font-family="Liberation Sans" font-size="16" font-weight="normal" text-anchor="middle" fill="#2a2a2a" transform="rotate(-90 1105.9 466.5)" >88.5</text>
<line class="n" x1="1088" y1="350.3" x2="1088" y2="1107.2"/>
<polygon class="ar" points="1088,350.3 1090.2,357.3 1085.8,357.3"/>
<polygon class="ar" points="1088,1107.2 1085.8,1100.2 1090.2,1100.2"/>
<text x="1083" y="724.9" font-family="Liberation Sans" font-size="16" font-weight="normal" text-anchor="middle" fill="#2a2a2a" transform="rotate(-90 1083 724.9)" >277</text>
<line class="n" x1="1081.2" y1="350.3" x2="1164" y2="350.3"/>
<line class="n" x1="1100" y1="592.2" x2="1140.5" y2="592.2"/>
<line class="n" x1="1107" y1="640.4" x2="1107" y2="763.8"/>
<polygon class="ar" points="1107,640.4 1109.2,647.4 1104.8,647.4"/>
<polygon class="ar" points="1107,763.8 1104.8,756.8 1109.2,756.8"/>
<text x="1105.9" y="699.6" font-family="Liberation Sans" font-size="16" font-weight="normal" text-anchor="middle" fill="#2a2a2a" transform="rotate(-90 1105.9 699.6)" >45</text>
<line class="n" x1="1107" y1="763.8" x2="1107" y2="865.1"/>
<polygon class="ar" points="1107,763.8 1109.2,770.8 1104.8,770.8"/>
<polygon class="ar" points="1107,865.1 1104.8,858.1 1109.2,858.1"/>
<text x="1105.9" y="811.4" font-family="Liberation Sans" font-size="16" font-weight="normal" text-anchor="middle" fill="#2a2a2a" transform="rotate(-90 1105.9 811.4)" >37</text>
<line class="n" x1="1100" y1="640.4" x2="1130.4" y2="640.4"/>
<line class="n" x1="1100" y1="865.1" x2="1140.5" y2="865.1"/>
<line class="n" x1="1130.4" y1="840.5" x2="1245.6" y2="840.5"/>
<polygon class="ar" points="1130.4,840.5 1137.4,838.3 1137.4,842.7"/>
<polygon class="ar" points="1245.6,840.5 1238.6,842.7 1238.6,838.3"/>
<text x="1189.7" y="838.8" font-family="Liberation Sans" font-size="16" font-weight="normal" text-anchor="middle" fill="#2a2a2a" >42</text>
<text x="1311.6" y="709.5" font-family="Liberation Sans" font-size="16" font-weight="normal" text-anchor="start" fill="#2a2a2a" >2-G1/2</text>
<line class="n" x1="1322.7" y1="712.4" x2="1359.6" y2="712.4"/>
<line class="n" x1="1322.7" y1="712.4" x2="1159.5" y2="780.1"/>
<polygon class="ar" points="1161.6,779.2 1166.3,774.87 1167.99,778.93"/>
<polygon class="ar" points="1235.6,748.5 1230.9,752.83 1229.21,748.77"/>
<line class="n" x1="1106.5" y1="865" x2="1106.5" y2="1107.2"/>
<polygon class="ar" points="1106.5,865 1108.7,872 1104.3,872"/>
<polygon class="ar" points="1106.5,1107.2 1104.3,1100.2 1108.7,1100.2"/>
<text x="1105.9" y="983.1" font-family="Liberation Sans" font-size="16" font-weight="normal" text-anchor="middle" fill="#2a2a2a" transform="rotate(-90 1105.9 983.1)" >88.5</text>
<line class="n" x1="1081.2" y1="1107.2" x2="1164" y2="1107.2"/>
<line class="n" x1="1129.3" y1="1012.2" x2="1198.6" y2="1012.2"/>
<polygon class="ar" points="1129.3,1012.2 1136.3,1010 1136.3,1014.4"/>
<polygon class="ar" points="1198.6,1012.2 1191.6,1014.4 1191.6,1010"/>
<text x="1166.9" y="1010.2" font-family="Liberation Sans" font-size="16" font-weight="normal" text-anchor="middle" fill="#2a2a2a" >25</text>
<line class="n" x1="1129.3" y1="1025.6" x2="1297" y2="1025.6"/>
<polygon class="ar" points="1129.3,1025.6 1136.3,1023.4 1136.3,1027.8"/>
<polygon class="ar" points="1297,1025.6 1290,1027.8 1290,1023.4"/>
<text x="1216" y="1024.3" font-family="Liberation Sans" font-size="16" font-weight="normal" text-anchor="middle" fill="#2a2a2a" >61</text>
<line class="n" x1="1296.6" y1="857.3" x2="1296.6" y2="1030"/>
<line class="s1" x1="133.4" y1="1297.5" x2="156.5" y2="1297.5"/>
<line class="s1" x1="199.8" y1="1297.5" x2="229.2" y2="1297.5"/>
<line class="s1" x1="271.8" y1="1297.5" x2="301" y2="1297.5"/>
<line class="s1" x1="344" y1="1297.5" x2="373" y2="1297.5"/>
<line class="s1" x1="416.3" y1="1297.5" x2="445.7" y2="1297.5"/>
<line class="s1" x1="489" y1="1297.5" x2="512.1" y2="1297.5"/>
<line class="s1" x1="133.4" y1="1555.3" x2="156.5" y2="1555.3"/>
<line class="s1" x1="199.8" y1="1555.3" x2="229.2" y2="1555.3"/>
<line class="s1" x1="271.8" y1="1555.3" x2="301" y2="1555.3"/>
<line class="s1" x1="344" y1="1555.3" x2="373" y2="1555.3"/>
<line class="s1" x1="416.3" y1="1555.3" x2="445.7" y2="1555.3"/>
<line class="s1" x1="490" y1="1555.3" x2="512.1" y2="1555.3"/>
<line class="s1" x1="133.4" y1="1297.5" x2="133.4" y2="1332.7"/>
<line class="s1" x1="133.4" y1="1375.3" x2="133.4" y2="1404"/>
<line class="s1" x1="133.4" y1="1448" x2="133.4" y2="1477.3"/>
<line class="s1" x1="133.4" y1="1520" x2="133.4" y2="1555.3"/>
<line class="s1" x1="512.1" y1="1297.5" x2="512.1" y2="1332.7"/>
<line class="s1" x1="512.1" y1="1375.3" x2="512.1" y2="1404.7"/>
<line class="s1" x1="512.1" y1="1448" x2="512.1" y2="1477.3"/>
<line class="s1" x1="512.1" y1="1520" x2="512.1" y2="1555.3"/>
<line class="s" x1="151.6" y1="1310.3" x2="151.6" y2="1540.9"/>
<line class="s" x1="151.6" y1="1310.3" x2="414.5" y2="1310.3"/>
<line class="s" x1="414.5" y1="1310.3" x2="414.5" y2="1413"/>
<line class="s" x1="151.6" y1="1540.9" x2="512.1" y2="1540.9"/>
<line class="s" x1="133.4" y1="1366.9" x2="151.6" y2="1366.9"/>
<line class="s" x1="133.4" y1="1426" x2="512.1" y2="1426"/>
<line class="s" x1="490" y1="1426" x2="490" y2="1555.3"/>
<polyline class="s" points="490,1555.3 512.1,1555.3 512.1,1520"/>
<circle class="ar" cx="151.6" cy="1366.9" r="2.6"/>
<circle class="ar" cx="151.6" cy="1426" r="2.6"/>
<circle class="ar" cx="168.7" cy="1310.3" r="2.6"/>
<circle class="ar" cx="250.6" cy="1310.3" r="2.6"/>
<circle class="ar" cx="332.5" cy="1310.3" r="2.6"/>
<circle class="ar" cx="168.7" cy="1540.9" r="2.6"/>
<circle class="ar" cx="250.6" cy="1540.9" r="2.6"/>
<circle class="ar" cx="332.5" cy="1540.9" r="2.6"/>
<circle class="ar" cx="414.5" cy="1540.9" r="2.6"/>
<circle class="ar" cx="490" cy="1426" r="2.6"/>
<circle class="ar" cx="490" cy="1540.9" r="2.6"/>
<circle class="s" cx="151.6" cy="1336.3" r="4"/>
<polyline class="s" points="145.6,1332.7 151.6,1346.6 157.6,1332.7"/>
<rect class="s" x="146" y="1486.4" width="11.2" height="18.9"/>
<polyline class="s" points="151,1502 151,1488"/>
<polygon class="ar" points="149,1495 153,1495 151,1504"/>
<polyline class="s1" points="146,1496 141.8,1496 141.8,1481.5 146.5,1481.5 150,1486"/>
<polyline class="s1" points="157.2,1496 159,1496 161,1492.5 163.5,1499 166,1492.5 168.5,1499 170,1495.5 172,1495.5"/>
<rect class="s" x="178.4" y="1348.7" width="34.4" height="153.8"/>
<line class="s" x1="178.4" y1="1400.2" x2="212.8" y2="1400.2"/>
<line class="s" x1="178.4" y1="1451.4" x2="212.8" y2="1451.4"/>
<line class="s" x1="178.4" y1="1361.7" x2="213.8" y2="1361.7"/>
<polygon class="ar" points="213.8,1361.7 198.8,1359 198.8,1364.4"/>
<line class="s" x1="177.4" y1="1387.5" x2="212.8" y2="1387.5"/>
<polygon class="ar" points="177.4,1387.5 192.4,1384.8 192.4,1390.2"/>
<line class="s" x1="178.4" y1="1374.6" x2="183.4" y2="1374.6"/>
<line class="s" x1="183.4" y1="1370.1" x2="183.4" y2="1379.1"/>
<line class="s" x1="207.8" y1="1374.6" x2="212.8" y2="1374.6"/>
<line class="s" x1="207.8" y1="1370.1" x2="207.8" y2="1379.1"/>
<line class="s" x1="178.4" y1="1413" x2="183.4" y2="1413"/>
<line class="s" x1="183.4" y1="1408.5" x2="183.4" y2="1417.5"/>
<line class="s" x1="207.8" y1="1413" x2="212.8" y2="1413"/>
<line class="s" x1="207.8" y1="1408.5" x2="207.8" y2="1417.5"/>
<line class="s" x1="178.4" y1="1438.2" x2="183.4" y2="1438.2"/>
<line class="s" x1="183.4" y1="1433.7" x2="183.4" y2="1442.7"/>
<line class="s" x1="207.8" y1="1438.2" x2="212.8" y2="1438.2"/>
<line class="s" x1="207.8" y1="1433.7" x2="207.8" y2="1442.7"/>
<line class="s" x1="178.4" y1="1477.3" x2="183.4" y2="1477.3"/>
<line class="s" x1="183.4" y1="1472.8" x2="183.4" y2="1481.8"/>
<line class="s" x1="207.8" y1="1477.3" x2="212.8" y2="1477.3"/>
<line class="s" x1="207.8" y1="1472.8" x2="207.8" y2="1481.8"/>
<line class="s" x1="178.4" y1="1426" x2="212.8" y2="1426"/>
<polygon class="ar" points="212.8,1426.0 198.8,1423.3 198.8,1428.7"/>
<line class="s" x1="178.4" y1="1465.4" x2="212.8" y2="1489.5"/>
<line class="s" x1="212.8" y1="1465.4" x2="178.4" y2="1489.5"/>
<polygon class="ar" points="213.3,1489.5 201.15,1484.19 204.13,1479.93"/>
<polygon class="ar" points="177.9,1489.5 187.07,1479.93 190.05,1484.19"/>
<rect class="s1" x="181.4" y="1333.4" width="7.2" height="15.3"/>
<line class="s1" x1="181.4" y1="1348.7" x2="195" y2="1332.7"/>
<polyline class="s1" points="188.6,1333.4 195,1339.3 188.6,1343 195,1345.4 188.6,1348.7"/>
<rect class="s1" x="181.4" y="1502.5" width="7.2" height="16"/>
<line class="s1" x1="181.4" y1="1502.5" x2="195" y2="1518.8"/>
<polyline class="s1" points="188.6,1502.5 195,1507 188.6,1510.5 195,1514.5 188.6,1518.5"/>
<polyline class="s" points="168.7,1310.3 168.7,1413 178.4,1413"/>
<polyline class="s" points="168.7,1540.9 168.7,1438.2 178.4,1438.2"/>
<path class="s" d="M223.60,1297.5 L223.60,1307.50 A2.8,2.8 0 0 1 223.60,1313.10 L223.60,1413 L212.80,1413"/>
<path class="s" d="M233.40,1297.5 L233.40,1307.50 A2.8,2.8 0 0 1 233.40,1313.10 L233.40,1423.20 A2.8,2.8 0 0 1 233.40,1428.80 L233.40,1438.2 L212.80,1438.2"/>
<rect class="s" x="260.35" y="1348.7" width="34.4" height="153.8"/>
<line class="s" x1="260.35" y1="1400.2" x2="294.75" y2="1400.2"/>
<line class="s" x1="260.35" y1="1451.4" x2="294.75" y2="1451.4"/>
<line class="s" x1="260.35" y1="1361.7" x2="295.75" y2="1361.7"/>
<polygon class="ar" points="295.8,1361.7 280.8,1359 280.8,1364.4"/>
<line class="s" x1="259.35" y1="1387.5" x2="294.75" y2="1387.5"/>
<polygon class="ar" points="259.4,1387.5 274.4,1384.8 274.4,1390.2"/>
<line class="s" x1="260.35" y1="1374.6" x2="265.35" y2="1374.6"/>
<line class="s" x1="265.35" y1="1370.1" x2="265.35" y2="1379.1"/>
<line class="s" x1="289.75" y1="1374.6" x2="294.75" y2="1374.6"/>
<line class="s" x1="289.75" y1="1370.1" x2="289.75" y2="1379.1"/>
<line class="s" x1="260.35" y1="1413" x2="265.35" y2="1413"/>
<line class="s" x1="265.35" y1="1408.5" x2="265.35" y2="1417.5"/>
<line class="s" x1="289.75" y1="1413" x2="294.75" y2="1413"/>
<line class="s" x1="289.75" y1="1408.5" x2="289.75" y2="1417.5"/>
<line class="s" x1="260.35" y1="1438.2" x2="265.35" y2="1438.2"/>
<line class="s" x1="265.35" y1="1433.7" x2="265.35" y2="1442.7"/>
<line class="s" x1="289.75" y1="1438.2" x2="294.75" y2="1438.2"/>
<line class="s" x1="289.75" y1="1433.7" x2="289.75" y2="1442.7"/>
<line class="s" x1="260.35" y1="1477.3" x2="265.35" y2="1477.3"/>
<line class="s" x1="265.35" y1="1472.8" x2="265.35" y2="1481.8"/>
<line class="s" x1="289.75" y1="1477.3" x2="294.75" y2="1477.3"/>
<line class="s" x1="289.75" y1="1472.8" x2="289.75" y2="1481.8"/>
<line class="s" x1="260.35" y1="1426" x2="294.75" y2="1426"/>
<polygon class="ar" points="294.8,1426.0 280.8,1423.3 280.8,1428.7"/>
<line class="s" x1="260.35" y1="1465.4" x2="294.75" y2="1489.5"/>
<line class="s" x1="294.75" y1="1465.4" x2="260.35" y2="1489.5"/>
<polygon class="ar" points="295.25,1489.5 283.1,1484.19 286.08,1479.93"/>
<polygon class="ar" points="259.85,1489.5 269.02,1479.93 272,1484.19"/>
<rect class="s1" x="263.35" y="1333.4" width="7.2" height="15.3"/>
<line class="s1" x1="263.35" y1="1348.7" x2="276.95" y2="1332.7"/>
<polyline class="s1" points="270.55,1333.4 276.95,1339.3 270.55,1343 276.95,1345.4 270.55,1348.7"/>
<rect class="s1" x="263.35" y="1502.5" width="7.2" height="16"/>
<line class="s1" x1="263.35" y1="1502.5" x2="276.95" y2="1518.8"/>
<polyline class="s1" points="270.55,1502.5 276.95,1507 270.55,1510.5 276.95,1514.5 270.55,1518.5"/>
<polyline class="s" points="250.65,1310.3 250.65,1413 260.35,1413"/>
<polyline class="s" points="250.65,1540.9 250.65,1438.2 260.35,1438.2"/>
<path class="s" d="M305.55,1297.5 L305.55,1307.50 A2.8,2.8 0 0 1 305.55,1313.10 L305.55,1413 L294.75,1413"/>
<path class="s" d="M315.35,1297.5 L315.35,1307.50 A2.8,2.8 0 0 1 315.35,1313.10 L315.35,1423.20 A2.8,2.8 0 0 1 315.35,1428.80 L315.35,1438.2 L294.75,1438.2"/>
<rect class="s" x="342.3" y="1348.7" width="34.4" height="153.8"/>
<line class="s" x1="342.3" y1="1400.2" x2="376.7" y2="1400.2"/>
<line class="s" x1="342.3" y1="1451.4" x2="376.7" y2="1451.4"/>
<line class="s" x1="342.3" y1="1361.7" x2="377.7" y2="1361.7"/>
<polygon class="ar" points="377.7,1361.7 362.7,1359 362.7,1364.4"/>
<line class="s" x1="341.3" y1="1387.5" x2="376.7" y2="1387.5"/>
<polygon class="ar" points="341.3,1387.5 356.3,1384.8 356.3,1390.2"/>
<line class="s" x1="342.3" y1="1374.6" x2="347.3" y2="1374.6"/>
<line class="s" x1="347.3" y1="1370.1" x2="347.3" y2="1379.1"/>
<line class="s" x1="371.7" y1="1374.6" x2="376.7" y2="1374.6"/>
<line class="s" x1="371.7" y1="1370.1" x2="371.7" y2="1379.1"/>
<line class="s" x1="342.3" y1="1413" x2="347.3" y2="1413"/>
<line class="s" x1="347.3" y1="1408.5" x2="347.3" y2="1417.5"/>
<line class="s" x1="371.7" y1="1413" x2="376.7" y2="1413"/>
<line class="s" x1="371.7" y1="1408.5" x2="371.7" y2="1417.5"/>
<line class="s" x1="342.3" y1="1438.2" x2="347.3" y2="1438.2"/>
<line class="s" x1="347.3" y1="1433.7" x2="347.3" y2="1442.7"/>
<line class="s" x1="371.7" y1="1438.2" x2="376.7" y2="1438.2"/>
<line class="s" x1="371.7" y1="1433.7" x2="371.7" y2="1442.7"/>
<line class="s" x1="342.3" y1="1477.3" x2="347.3" y2="1477.3"/>
<line class="s" x1="347.3" y1="1472.8" x2="347.3" y2="1481.8"/>
<line class="s" x1="371.7" y1="1477.3" x2="376.7" y2="1477.3"/>
<line class="s" x1="371.7" y1="1472.8" x2="371.7" y2="1481.8"/>
<line class="s" x1="342.3" y1="1426" x2="376.7" y2="1426"/>
<polygon class="ar" points="376.7,1426.0 362.7,1423.3 362.7,1428.7"/>
<line class="s" x1="342.3" y1="1465.4" x2="376.7" y2="1489.5"/>
<line class="s" x1="376.7" y1="1465.4" x2="342.3" y2="1489.5"/>
<polygon class="ar" points="377.2,1489.5 365.05,1484.19 368.03,1479.93"/>
<polygon class="ar" points="341.8,1489.5 350.97,1479.93 353.95,1484.19"/>
<rect class="s1" x="345.3" y="1333.4" width="7.2" height="15.3"/>
<line class="s1" x1="345.3" y1="1348.7" x2="358.9" y2="1332.7"/>
<polyline class="s1" points="352.5,1333.4 358.9,1339.3 352.5,1343 358.9,1345.4 352.5,1348.7"/>
<rect class="s1" x="345.3" y="1502.5" width="7.2" height="16"/>
<line class="s1" x1="345.3" y1="1502.5" x2="358.9" y2="1518.8"/>
<polyline class="s1" points="352.5,1502.5 358.9,1507 352.5,1510.5 358.9,1514.5 352.5,1518.5"/>
<polyline class="s" points="332.6,1310.3 332.6,1413 342.3,1413"/>
<polyline class="s" points="332.6,1540.9 332.6,1438.2 342.3,1438.2"/>
<path class="s" d="M387.50,1297.5 L387.50,1307.50 A2.8,2.8 0 0 1 387.50,1313.10 L387.50,1413 L376.70,1413"/>
<path class="s" d="M397.30,1297.5 L397.30,1307.50 A2.8,2.8 0 0 1 397.30,1313.10 L397.30,1423.20 A2.8,2.8 0 0 1 397.30,1428.80 L397.30,1438.2 L376.70,1438.2"/>
<rect class="s" x="424.25" y="1348.7" width="34.4" height="153.8"/>
<line class="s" x1="424.25" y1="1400.2" x2="458.65" y2="1400.2"/>
<line class="s" x1="424.25" y1="1451.4" x2="458.65" y2="1451.4"/>
<line class="s" x1="424.25" y1="1361.7" x2="459.65" y2="1361.7"/>
<polygon class="ar" points="459.6,1361.7 444.6,1359 444.6,1364.4"/>
<line class="s" x1="423.25" y1="1387.5" x2="458.65" y2="1387.5"/>
<polygon class="ar" points="423.2,1387.5 438.2,1384.8 438.2,1390.2"/>
<line class="s" x1="424.25" y1="1374.6" x2="429.25" y2="1374.6"/>
<line class="s" x1="429.25" y1="1370.1" x2="429.25" y2="1379.1"/>
<line class="s" x1="453.65" y1="1374.6" x2="458.65" y2="1374.6"/>
<line class="s" x1="453.65" y1="1370.1" x2="453.65" y2="1379.1"/>
<line class="s" x1="424.25" y1="1413" x2="429.25" y2="1413"/>
<line class="s" x1="429.25" y1="1408.5" x2="429.25" y2="1417.5"/>
<line class="s" x1="453.65" y1="1413" x2="458.65" y2="1413"/>
<line class="s" x1="453.65" y1="1408.5" x2="453.65" y2="1417.5"/>
<line class="s" x1="424.25" y1="1438.2" x2="429.25" y2="1438.2"/>
<line class="s" x1="429.25" y1="1433.7" x2="429.25" y2="1442.7"/>
<line class="s" x1="453.65" y1="1438.2" x2="458.65" y2="1438.2"/>
<line class="s" x1="453.65" y1="1433.7" x2="453.65" y2="1442.7"/>
<line class="s" x1="424.25" y1="1477.3" x2="429.25" y2="1477.3"/>
<line class="s" x1="429.25" y1="1472.8" x2="429.25" y2="1481.8"/>
<line class="s" x1="453.65" y1="1477.3" x2="458.65" y2="1477.3"/>
<line class="s" x1="453.65" y1="1472.8" x2="453.65" y2="1481.8"/>
<line class="s" x1="424.25" y1="1426" x2="458.65" y2="1426"/>
<polygon class="ar" points="458.6,1426.0 444.6,1423.3 444.6,1428.7"/>
<line class="s" x1="424.25" y1="1465.4" x2="458.65" y2="1489.5"/>
<line class="s" x1="458.65" y1="1465.4" x2="424.25" y2="1489.5"/>
<polygon class="ar" points="459.15,1489.5 447,1484.19 449.98,1479.93"/>
<polygon class="ar" points="423.75,1489.5 432.92,1479.93 435.9,1484.19"/>
<rect class="s1" x="427.25" y="1333.4" width="7.2" height="15.3"/>
<line class="s1" x1="427.25" y1="1348.7" x2="440.85" y2="1332.7"/>
<polyline class="s1" points="434.45,1333.4 440.85,1339.3 434.45,1343 440.85,1345.4 434.45,1348.7"/>
<rect class="s1" x="427.25" y="1502.5" width="7.2" height="16"/>
<line class="s1" x1="427.25" y1="1502.5" x2="440.85" y2="1518.8"/>
<polyline class="s1" points="434.45,1502.5 440.85,1507 434.45,1510.5 440.85,1514.5 434.45,1518.5"/>
<line class="s" x1="414.55" y1="1413" x2="424.25" y2="1413"/>
<polyline class="s" points="414.55,1540.9 414.55,1438.2 424.25,1438.2"/>
<path class="s" d="M469.45,1297.5 L469.45,1413 L458.65,1413"/>
<path class="s" d="M479.25,1297.5 L479.25,1423.20 A2.8,2.8 0 0 1 479.25,1428.80 L479.25,1438.2 L458.65,1438.2"/>
<text x="203.3" y="1289.6" font-family="Liberation Sans" font-size="21" font-weight="bold" text-anchor="start" fill="#111" textLength="55" lengthAdjust="spacingAndGlyphs">A1B1</text>
<text x="288" y="1289.6" font-family="Liberation Sans" font-size="21" font-weight="bold" text-anchor="start" fill="#111" textLength="55" lengthAdjust="spacingAndGlyphs">A2B2</text>
<text x="372.5" y="1289.6" font-family="Liberation Sans" font-size="21" font-weight="bold" text-anchor="start" fill="#111" textLength="55" lengthAdjust="spacingAndGlyphs">A3B3</text>
<text x="446.4" y="1289.6" font-family="Liberation Sans" font-size="21" font-weight="bold" text-anchor="start" fill="#111" textLength="55" lengthAdjust="spacingAndGlyphs">A4B4</text>
<text x="102" y="1374.6" font-family="Liberation Sans" font-size="21" font-weight="bold" text-anchor="start" fill="#111" textLength="24.4" lengthAdjust="spacingAndGlyphs">P1</text>
<text x="112.5" y="1434.7" font-family="Liberation Sans" font-size="21" font-weight="bold" text-anchor="start" fill="#111" >P</text>
<text x="519.8" y="1433.3" font-family="Liberation Sans" font-size="21" font-weight="bold" text-anchor="start" fill="#111" >N</text>
<text x="518.4" y="1551.4" font-family="Liberation Sans" font-size="21" font-weight="bold" text-anchor="start" fill="#111" textLength="22.3" lengthAdjust="spacingAndGlyphs">T1</text>
<text x="484.1" y="1576.5" font-family="Liberation Sans" font-size="21" font-weight="bold" text-anchor="start" fill="#111" >T</text>
<defs><g id="wmk"><text transform="translate(9.5,0) scale(0.69,1)">H</text><text x="28.5" y="0">a</text><text x="47.5" y="0">o</text><text x="66.5" y="0">h</text><text x="85.5" y="0">o</text><text x="104.5" y="0">n</text><text x="123.5" y="0">g</text><text transform="translate(161.5,0) scale(0.69,1)">H</text><text x="180.5" y="0">y</text><text x="199.5" y="0">d</text><text x="218.5" y="0">r</text><text x="237.5" y="0">a</text><text x="256.5" y="0">u</text><text x="275.5" y="0">l</text><text x="294.5" y="0">i</text><text x="313.5" y="0">c</text><text transform="translate(9.5,31) scale(0.53,1)">W</text><text x="28.5" y="31">h</text><text x="47.5" y="31">a</text><text x="66.5" y="31">t</text><text x="85.5" y="31">s</text><text x="104.5" y="31">a</text><text x="123.5" y="31">p</text><text x="142.5" y="31">p</text><text x="161.5" y="31">:</text><text transform="translate(180.5,31) scale(0.89,1)">+</text><text x="199.5" y="31">8</text><text x="218.5" y="31">6</text><text x="237.5" y="31">-</text><text x="256.5" y="31">1</text><text x="275.5" y="31">8</text><text x="294.5" y="31">0</text><text x="313.5" y="31">3</text><text x="332.5" y="31">6</text><text x="351.5" y="31">7</text><text x="370.5" y="31">5</text><text x="389.5" y="31">7</text><text x="408.5" y="31">3</text><text x="427.5" y="31">2</text><text x="446.5" y="31">2</text></g></defs>
<g fill="#5ec0ea" fill-opacity="0.55" font-family="Liberation Serif" font-size="35" text-anchor="middle">
<use href="#wmk" transform="translate(605.6,392.7) rotate(-44.5)"/>
<use href="#wmk" transform="translate(1376.3,341.5) rotate(-44.5)"/>
<use href="#wmk" transform="translate(193.8,803.4) rotate(-44.5)"/>
<use href="#wmk" transform="translate(964.5,752.2) rotate(-44.5)"/>
<use href="#wmk" transform="translate(-218.0,1214.1) rotate(-44.5)"/>
<use href="#wmk" transform="translate(552.7,1162.9) rotate(-44.5)"/>
<use href="#wmk" transform="translate(1323.4,1111.7) rotate(-44.5)"/>
<use href="#wmk" transform="translate(140.9,1573.6) rotate(-44.5)"/>
<use href="#wmk" transform="translate(911.6,1522.4) rotate(-44.5)"/>
<use href="#wmk" transform="translate(-270.9,1984.3) rotate(-44.5)"/>
<use href="#wmk" transform="translate(499.8,1933.1) rotate(-44.5)"/>
<use href="#wmk" transform="translate(1017.4,-18.0) rotate(-44.5)"/>
</g>
</svg></body></html>
